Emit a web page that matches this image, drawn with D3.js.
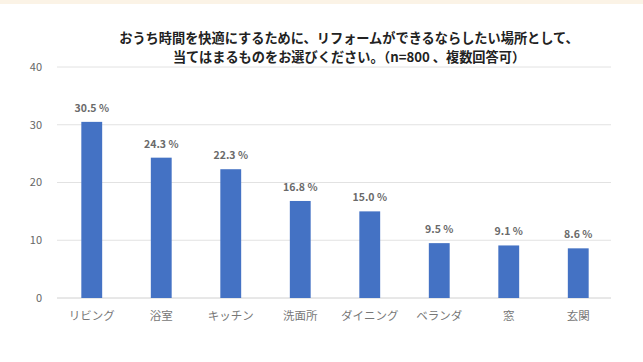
<!DOCTYPE html>
<html>
<head>
<meta charset="utf-8">
<script src="https://cdn.jsdelivr.net/npm/d3@7"></script>
<style>
  body { margin: 0; background: #fff; }
  svg { display: block; font-family: "Noto Sans CJK JP", "Noto Sans", sans-serif; }
</style>
</head>
<body>
<div class="chart"></div>
<script>
const categories = ["リビング", "浴室", "キッチン", "洗面所", "ダイニング", "ベランダ", "窓", "玄関"];
const values = [30.5, 24.3, 22.3, 16.8, 15.0, 9.5, 9.1, 8.6];
const yTicks = [0, 10, 20, 30, 40];
const titleLines = [
    "おうち時間を快適にするために、リフォームができるならしたい場所として、",
    "当てはまるものをお選びください。（n=800 、複数回答可）"
];

const width = 643, height = 362;
const svg = d3.select(".chart").append("svg")
    .attr("width", width)
    .attr("height", height);

svg.append("rect")
    .attr("width", width)
    .attr("height", height)
    .attr("fill", "#fff");

// faint strip at top
svg.append("rect")
    .attr("width", width)
    .attr("height", 4)
    .attr("fill", "#fbf3e6");

const x = d3.scaleBand()
    .domain(categories)
    .range([57, 613])
    .paddingInner(0.7)
    .paddingOuter(0.35);

const y = d3.scaleLinear()
    .domain([0, 40])
    .range([298, 67]);

// gridlines
svg.selectAll("line.grid")
    .data(yTicks)
    .enter().append("line")
    .attr("class", "grid")
    .attr("x1", 57)
    .attr("x2", 611)
    .attr("y1", d => y(d))
    .attr("y2", d => y(d))
    .attr("stroke", d => d === 0 ? "#d0d0d0" : "#e2e2e2")
    .attr("stroke-width", 1);

// y tick labels
svg.selectAll("text.ytick")
    .data(yTicks)
    .enter().append("text")
    .attr("class", "ytick")
    .attr("x", 42)
    .attr("y", d => y(d))
    .attr("dy", "0.35em")
    .attr("text-anchor", "end")
    .attr("font-size", 11)
    .attr("fill", "#666")
    .text(d => d);

// bars
svg.selectAll("rect.bar")
    .data(values)
    .enter().append("rect")
    .attr("class", "bar")
    .attr("x", (d, i) => x(categories[i]))
    .attr("y", d => y(d))
    .attr("width", x.bandwidth())
    .attr("height", d => y(0) - y(d))
    .attr("fill", "#4472c4");

// value labels
svg.selectAll("text.val")
    .data(values)
    .enter().append("text")
    .attr("class", "val")
    .attr("x", (d, i) => x(categories[i]) + x.bandwidth() / 2)
    .attr("y", d => y(d) - 10)
    .attr("text-anchor", "middle")
    .attr("font-size", 10.5)
    .attr("font-weight", 600)
    .attr("fill", "#6a6a6a")
    .text(d => d.toFixed(1) + " %");

// category labels
svg.selectAll("text.cat")
    .data(categories)
    .enter().append("text")
    .attr("class", "cat")
    .attr("x", d => x(d) + x.bandwidth() / 2)
    .attr("y", 320)
    .attr("text-anchor", "middle")
    .attr("font-size", 11.5)
    .attr("fill", "#777")
    .text(d => d);

// title
svg.selectAll("text.title")
    .data(titleLines)
    .enter().append("text")
    .attr("class", "title")
    .attr("x", 349)
    .attr("y", (d, i) => 43 + i * 19)
    .attr("text-anchor", "middle")
    .attr("font-size", 13.2)
    .attr("font-weight", "bold")
    .attr("fill", "#222")
    .text(d => d);
</script>
</body>
</html>
